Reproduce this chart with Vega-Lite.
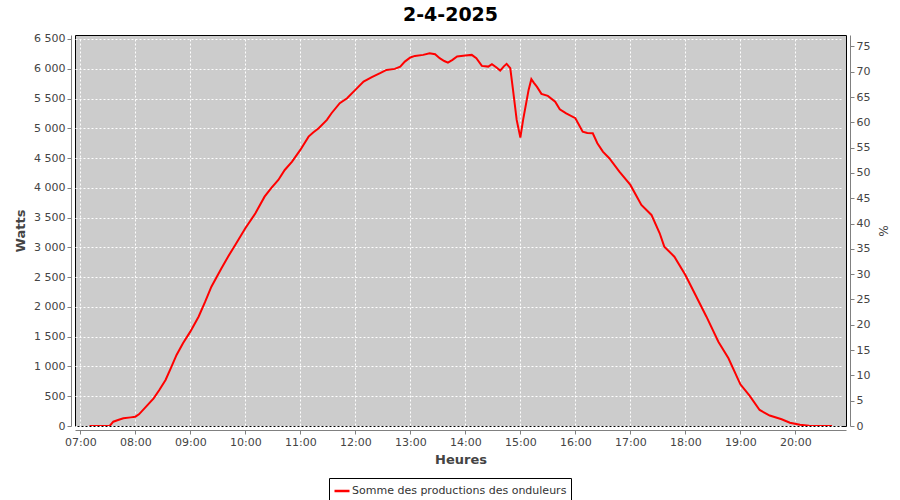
{
  "$schema": "https://vega.github.io/schema/vega-lite/v6.json",
  "width": 771,
  "height": 391,
  "autosize": {"type": "none"},
  "padding": {"left": 75, "top": 35, "right": 54, "bottom": 74},
  "background": "white",
  "title": {"text": "2-4-2025", "font": "DejaVu Sans", "fontSize": 19, "fontWeight": "bold", "color": "black", "anchor": "middle", "dx": -10, "offset": 8},
  "config": {
    "view": {"fill": "#cccccc", "stroke": "black", "strokeWidth": 1},
    "axis": {"labelFont": "DejaVu Sans", "labelFontSize": 11, "labelColor": "#444444", "titleFont": "DejaVu Sans", "titleFontSize": 13, "titleFontWeight": "bold", "titleColor": "#444444", "domainColor": "#808080", "tickColor": "#808080", "tickSize": 4, "gridColor": "white", "gridDash": [2, 2], "gridOpacity": 1, "gridWidth": 1, "offset": 4}
  },
  "data": {"values": [
    {"t": "2025-04-02T07:10:00Z", "W": 0},
    {"t": "2025-04-02T07:32:00Z", "W": 0},
    {"t": "2025-04-02T07:36:00Z", "W": 72},
    {"t": "2025-04-02T07:42:00Z", "W": 105},
    {"t": "2025-04-02T07:47:00Z", "W": 129},
    {"t": "2025-04-02T07:55:00Z", "W": 145},
    {"t": "2025-04-02T08:00:00Z", "W": 156},
    {"t": "2025-04-02T08:04:00Z", "W": 196},
    {"t": "2025-04-02T08:12:00Z", "W": 330},
    {"t": "2025-04-02T08:20:00Z", "W": 465},
    {"t": "2025-04-02T08:26:00Z", "W": 600},
    {"t": "2025-04-02T08:33:00Z", "W": 773},
    {"t": "2025-04-02T08:39:00Z", "W": 980},
    {"t": "2025-04-02T08:45:00Z", "W": 1193},
    {"t": "2025-04-02T08:52:00Z", "W": 1390},
    {"t": "2025-04-02T09:00:00Z", "W": 1585},
    {"t": "2025-04-02T09:09:00Z", "W": 1836},
    {"t": "2025-04-02T09:16:00Z", "W": 2080},
    {"t": "2025-04-02T09:23:00Z", "W": 2340},
    {"t": "2025-04-02T09:34:00Z", "W": 2650},
    {"t": "2025-04-02T09:41:00Z", "W": 2840},
    {"t": "2025-04-02T09:49:00Z", "W": 3040},
    {"t": "2025-04-02T10:00:00Z", "W": 3321},
    {"t": "2025-04-02T10:11:00Z", "W": 3573},
    {"t": "2025-04-02T10:21:00Z", "W": 3852},
    {"t": "2025-04-02T10:28:00Z", "W": 3990},
    {"t": "2025-04-02T10:36:00Z", "W": 4133},
    {"t": "2025-04-02T10:43:00Z", "W": 4300},
    {"t": "2025-04-02T10:51:00Z", "W": 4440},
    {"t": "2025-04-02T11:00:00Z", "W": 4637},
    {"t": "2025-04-02T11:09:00Z", "W": 4860},
    {"t": "2025-04-02T11:14:00Z", "W": 4930},
    {"t": "2025-04-02T11:20:00Z", "W": 5001},
    {"t": "2025-04-02T11:29:00Z", "W": 5141},
    {"t": "2025-04-02T11:34:00Z", "W": 5253},
    {"t": "2025-04-02T11:43:00Z", "W": 5421},
    {"t": "2025-04-02T11:51:00Z", "W": 5505},
    {"t": "2025-04-02T12:00:00Z", "W": 5645},
    {"t": "2025-04-02T12:09:00Z", "W": 5785},
    {"t": "2025-04-02T12:18:00Z", "W": 5858},
    {"t": "2025-04-02T12:27:00Z", "W": 5925},
    {"t": "2025-04-02T12:34:00Z", "W": 5981},
    {"t": "2025-04-02T12:43:00Z", "W": 5998},
    {"t": "2025-04-02T12:49:00Z", "W": 6036},
    {"t": "2025-04-02T12:54:00Z", "W": 6120},
    {"t": "2025-04-02T13:00:00Z", "W": 6190},
    {"t": "2025-04-02T13:05:00Z", "W": 6216},
    {"t": "2025-04-02T13:14:00Z", "W": 6233},
    {"t": "2025-04-02T13:21:00Z", "W": 6261},
    {"t": "2025-04-02T13:27:00Z", "W": 6244},
    {"t": "2025-04-02T13:32:00Z", "W": 6177},
    {"t": "2025-04-02T13:37:00Z", "W": 6130},
    {"t": "2025-04-02T13:41:00Z", "W": 6104},
    {"t": "2025-04-02T13:46:00Z", "W": 6150},
    {"t": "2025-04-02T13:51:00Z", "W": 6205},
    {"t": "2025-04-02T14:00:00Z", "W": 6221},
    {"t": "2025-04-02T14:07:00Z", "W": 6233},
    {"t": "2025-04-02T14:12:00Z", "W": 6177},
    {"t": "2025-04-02T14:18:00Z", "W": 6048},
    {"t": "2025-04-02T14:25:00Z", "W": 6036},
    {"t": "2025-04-02T14:29:00Z", "W": 6077},
    {"t": "2025-04-02T14:34:00Z", "W": 6020},
    {"t": "2025-04-02T14:38:00Z", "W": 5969},
    {"t": "2025-04-02T14:42:00Z", "W": 6040},
    {"t": "2025-04-02T14:45:00Z", "W": 6082},
    {"t": "2025-04-02T14:49:00Z", "W": 6010},
    {"t": "2025-04-02T14:52:00Z", "W": 5645},
    {"t": "2025-04-02T14:56:00Z", "W": 5141},
    {"t": "2025-04-02T15:00:00Z", "W": 4843},
    {"t": "2025-04-02T15:03:00Z", "W": 5141},
    {"t": "2025-04-02T15:09:00Z", "W": 5645},
    {"t": "2025-04-02T15:12:00Z", "W": 5825},
    {"t": "2025-04-02T15:15:00Z", "W": 5760},
    {"t": "2025-04-02T15:18:00Z", "W": 5700},
    {"t": "2025-04-02T15:23:00Z", "W": 5578},
    {"t": "2025-04-02T15:30:00Z", "W": 5544},
    {"t": "2025-04-02T15:38:00Z", "W": 5448},
    {"t": "2025-04-02T15:43:00Z", "W": 5320},
    {"t": "2025-04-02T15:50:00Z", "W": 5250},
    {"t": "2025-04-02T16:00:00Z", "W": 5170},
    {"t": "2025-04-02T16:08:00Z", "W": 4944},
    {"t": "2025-04-02T16:13:00Z", "W": 4920},
    {"t": "2025-04-02T16:19:00Z", "W": 4917},
    {"t": "2025-04-02T16:24:00Z", "W": 4749},
    {"t": "2025-04-02T16:30:00Z", "W": 4608},
    {"t": "2025-04-02T16:37:00Z", "W": 4497},
    {"t": "2025-04-02T16:48:00Z", "W": 4272},
    {"t": "2025-04-02T17:00:00Z", "W": 4049},
    {"t": "2025-04-02T17:12:00Z", "W": 3713},
    {"t": "2025-04-02T17:23:00Z", "W": 3545},
    {"t": "2025-04-02T17:32:00Z", "W": 3237},
    {"t": "2025-04-02T17:37:00Z", "W": 3012},
    {"t": "2025-04-02T17:48:00Z", "W": 2844},
    {"t": "2025-04-02T18:00:00Z", "W": 2537},
    {"t": "2025-04-02T18:12:00Z", "W": 2172},
    {"t": "2025-04-02T18:23:00Z", "W": 1836},
    {"t": "2025-04-02T18:36:00Z", "W": 1416},
    {"t": "2025-04-02T18:47:00Z", "W": 1137},
    {"t": "2025-04-02T19:00:00Z", "W": 700},
    {"t": "2025-04-02T19:10:00Z", "W": 510},
    {"t": "2025-04-02T19:21:00Z", "W": 269},
    {"t": "2025-04-02T19:32:00Z", "W": 175},
    {"t": "2025-04-02T19:45:00Z", "W": 113},
    {"t": "2025-04-02T19:54:00Z", "W": 55},
    {"t": "2025-04-02T20:05:00Z", "W": 20},
    {"t": "2025-04-02T20:15:00Z", "W": 5},
    {"t": "2025-04-02T20:40:00Z", "W": 0}
  ]},
  "layer": [
    {
      "mark": {"type": "line", "strokeWidth": 2, "interpolate": "linear", "clip": true},
      "encoding": {
        "x": {
          "field": "t", "type": "temporal", "title": "Heures",
          "scale": {"type": "utc", "domain": [
            {"year": 2025, "month": 4, "date": 2, "hours": 6, "minutes": 54, "seconds": 13, "utc": true},
            {"year": 2025, "month": 4, "date": 2, "hours": 20, "minutes": 55, "seconds": 13, "utc": true}
          ]},
          "axis": {"format": "%H:%M", "tickCount": 14, "labelPadding": 2, "titlePadding": 6, "labelFlush": false}
        },
        "y": {
          "field": "W", "type": "quantitative", "title": "Watts",
          "scale": {"domain": [0, 6567], "nice": false, "zero": false},
          "axis": {"orient": "left", "values": [0, 500, 1000, 1500, 2000, 2500, 3000, 3500, 4000, 4500, 5000, 5500, 6000, 6500], "labelExpr": "replace(format(datum.value, ','), ',', ' ')", "labelPadding": 2, "titlePadding": 6}
        },
        "color": {
          "datum": "Somme des productions des onduleurs",
          "type": "nominal",
          "scale": {"range": ["#ff0000"]},
          "legend": {"orient": "none", "legendX": 254, "legendY": 443, "title": null, "direction": "horizontal", "strokeColor": "black", "fillColor": "white", "padding": 4, "symbolType": "stroke", "symbolSize": 225, "symbolStrokeWidth": 2.5, "labelFont": "DejaVu Sans", "labelFontSize": 11, "labelColor": "#333333", "labelOffset": 1, "labelLimit": 400}
        }
      }
    },
    {
      "mark": {"type": "line", "strokeOpacity": 0, "clip": true},
      "encoding": {
        "x": {"field": "t", "type": "temporal"},
        "y": {
          "field": "W", "type": "quantitative", "title": "%",
          "scale": {"domain": [0, 77.26], "nice": false, "zero": false},
          "axis": {"orient": "right", "grid": false, "values": [0, 5, 10, 15, 20, 25, 30, 35, 40, 45, 50, 55, 60, 65, 70, 75], "labelPadding": 2, "titlePadding": 6, "titleFontWeight": "normal", "titleFontSize": 12}
        }
      }
    }
  ],
  "resolve": {"scale": {"y": "independent"}}
}
